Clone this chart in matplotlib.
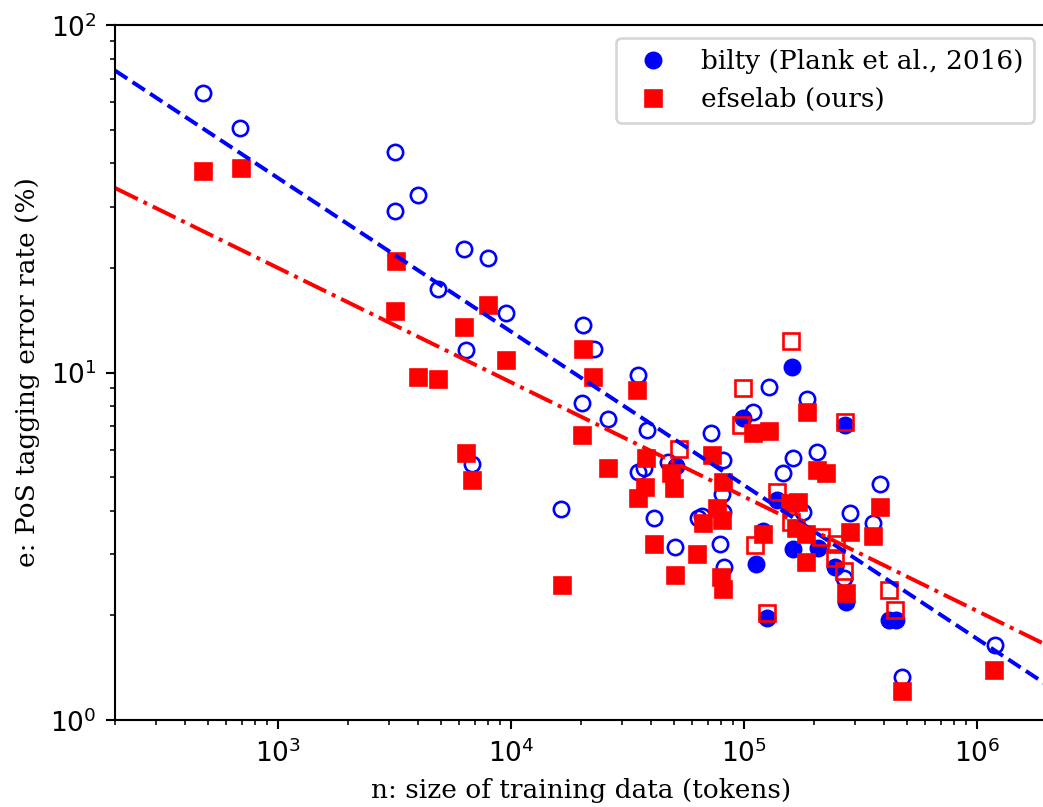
import numpy as np
import matplotlib
matplotlib.use('Agg')
import matplotlib.pyplot as plt
from matplotlib.ticker import FuncFormatter, LogLocator

plt.rcParams['font.family'] = 'serif'

# bilty, filled points (n tokens, error %)
bilty_n = [1.61e5, 9.9e4, 2.72e5, 5.13e4, 1.38e5, 1.21e5, 1.62e5, 2.07e5,
           1.13e5, 2.45e5, 2.75e5, 1.25e5, 4.21e5, 4.5e5]
bilty_e = [10.4, 7.4, 7.05, 5.4, 4.3, 3.5, 3.1, 3.12,
           2.82, 2.76, 2.19, 1.96, 1.94, 1.94]

# bilty, open points
bilty_open_n = [475, 690, 3190, 3980, 3170, 4870, 6320, 8010, 9570, 6400,
                6790, 16400, 20300, 22800, 20200, 26000, 35000, 38300, 35000, 37400,
                41300, 47100, 50800, 63300, 66400, 72300, 81100, 80600, 81100, 79300,
                81900, 1.09e5, 1.28e5, 1.87e5, 1.47e5, 1.63e5, 2.05e5, 1.79e5, 2.84e5, 3.84e5,
                3.57e5, 2.70e5, 1.19e6, 4.76e5]
bilty_open_e = [63.6, 50.6, 43.0, 32.4, 29.2, 17.4, 22.7, 21.4, 14.8, 11.6,
                5.44, 4.04, 13.7, 11.7, 8.15, 7.35, 9.83, 6.83, 5.18, 5.30,
                3.82, 5.54, 3.14, 3.82, 3.86, 6.68, 5.60, 4.47, 3.98, 3.22,
                2.76, 7.68, 9.08, 8.39, 5.15, 5.66, 5.92, 3.98, 3.93, 4.78,
                3.68, 2.56, 1.64, 1.33]

# efselab, filled points
efs_n = [477, 695, 3220, 3190, 3980, 4850, 6320, 8010, 9500, 6420,
         6810, 16500, 20300, 22400, 20200, 26000, 34700, 38000, 37700, 35000,
         41300, 48700, 50300, 50700, 62700, 67000, 73000, 81100, 76400, 80600,
         79800, 81700, 1.09e5, 1.28e5, 1.87e5, 2.05e5, 2.25e5, 1.21e5, 1.57e5, 1.70e5,
         1.67e5, 1.85e5, 2.84e5, 1.85e5, 2.75e5, 3.84e5, 3.57e5, 1.18e6, 4.76e5]
efs_e = [38.0, 38.9, 20.9, 15.0, 9.72, 9.60, 13.5, 15.6, 10.9, 5.87,
         4.90, 2.44, 11.7, 9.72, 6.61, 5.30, 8.90, 5.66, 4.69, 4.34,
         3.20, 5.13, 4.64, 2.61, 3.00, 3.68, 5.79, 4.85, 4.07, 3.76,
         2.58, 2.39, 6.68, 6.79, 7.68, 5.24, 5.13, 3.42, 4.20, 4.25,
         3.56, 3.44, 3.48, 2.85, 2.32, 4.11, 3.38, 1.39, 1.21]

# efselab, open points
efs_open_n = [1.60e5, 9.9e4, 9.7e4, 2.72e5, 52500, 1.38e5, 1.59e5, 1.12e5,
              2.14e5, 2.49e5, 2.45e5, 2.70e5, 1.25e5, 4.21e5, 4.47e5]
efs_open_e = [12.3, 9.0, 7.06, 7.22, 6.02, 4.54, 3.72, 3.19,
              3.37, 3.21, 2.92, 2.69, 2.03, 2.37, 2.07]

# power law fits: log10(e) = a + b*log10(n)
bilty_fit = [2.886, -0.442]
efs_fit = [2.288, -0.329]

xmin, xmax = 200, 2e6

fig = plt.figure(figsize=(1043 / 190, 807 / 190), dpi=190)
ax = fig.add_axes([0.1103, 0.1078, 0.8936, 0.8612])

ms = 5.8
ax.plot(bilty_open_n, bilty_open_e, 'o', color='blue', mfc='none', ms=ms, mew=1.0)
ax.plot(bilty_n, bilty_e, 'o', color='blue', ms=ms, label='bilty (Plank et al., 2016)')
ax.plot(efs_open_n, efs_open_e, 's', color='red', mfc='none', ms=ms, mew=1.0)
ax.plot(efs_n, efs_e, 's', color='red', ms=ms, label='efselab (ours)')

xs = np.logspace(np.log10(xmin), np.log10(xmax), 50)
ax.plot(xs, 10 ** (bilty_fit[0] + bilty_fit[1] * np.log10(xs)), '--', color='blue', lw=1.5)
ax.plot(xs, 10 ** (efs_fit[0] + efs_fit[1] * np.log10(xs)), '-.', color='red', lw=1.5)

ax.set_xscale('log')
ax.set_yscale('log')
ax.set_xlim(xmin, xmax)
ax.set_ylim(1, 100)

# sans mathtext tick labels like 10^3
fmt = FuncFormatter(lambda v, pos: r'$10^{%d}$' % round(np.log10(v)))
for axis in (ax.xaxis, ax.yaxis):
    axis.set_major_locator(LogLocator(base=10))
    axis.set_major_formatter(fmt)

ax.set_xlabel('n: size of training data (tokens)')
ax.set_ylabel('e: PoS tagging error rate (%)')
ax.legend(loc='upper right')

fig.savefig('out.png', dpi=190)
